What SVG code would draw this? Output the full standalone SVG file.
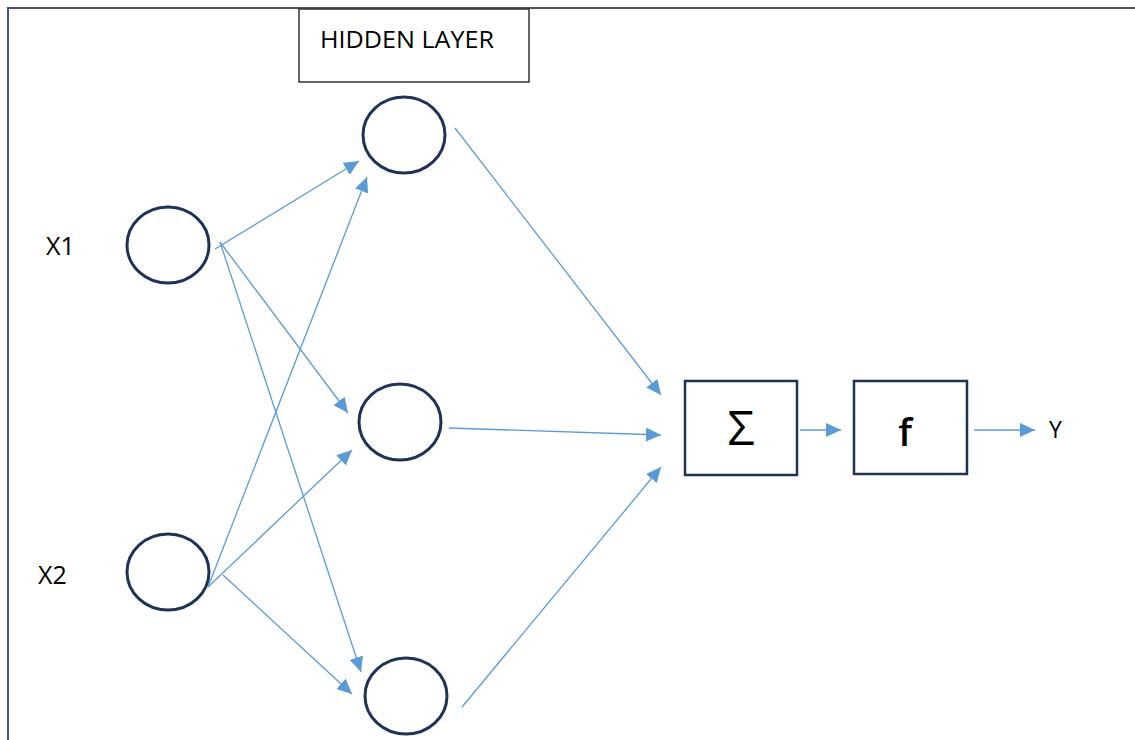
<svg xmlns="http://www.w3.org/2000/svg" width="1135" height="740" viewBox="0 0 1135 740">
<style>
.node{fill:#fff;stroke:#1f3356;stroke-width:3}
.box{fill:#fff;stroke:#1f3356;stroke-width:2.5}
.conn{stroke:#5b9bd5;stroke-width:1.3;fill:none;marker-end:url(#ah)}
.lbl{font-family:"Open Sans","Liberation Sans",sans-serif;fill:#000}
</style>
<defs>
<marker id="ah" markerUnits="userSpaceOnUse" markerWidth="16" markerHeight="14" refX="15" refY="7" orient="auto">
<path d="M0,0 L15,7 L0,14 Z" fill="#5b9bd5"/>
</marker>
</defs>
<rect x="0" y="0" width="1135" height="740" fill="#fff"/>
<rect id="frame" x="8" y="8" width="1140" height="750" fill="none" stroke="#44546a" stroke-width="2"/>
<g id="hidden-layer-label">
<rect x="299" y="9" width="230" height="73" fill="#fff" stroke="#333" stroke-width="1.5"/>
<text class="lbl" x="320" y="48" font-size="24.5" textLength="174" lengthAdjust="spacingAndGlyphs">HIDDEN LAYER</text>
</g>
<g id="x1"><ellipse class="node" cx="168" cy="245" rx="41" ry="38"/><text class="lbl" x="46" y="255" font-size="25">X1</text></g>
<g id="x2"><ellipse class="node" cx="168" cy="572" rx="41" ry="38"/><text class="lbl" x="38" y="584" font-size="25">X2</text></g>
<g id="h1"><ellipse class="node" cx="404" cy="135" rx="41" ry="38"/></g>
<g id="h2"><ellipse class="node" cx="400" cy="422" rx="41" ry="38"/></g>
<g id="h3"><ellipse class="node" cx="406" cy="696" rx="41" ry="38"/></g>
<g id="sum"><rect class="box" x="685" y="381" width="112" height="94"/><text class="lbl" x="741" y="445" font-size="48" text-anchor="middle">Σ</text></g>
<g id="f"><rect class="box" x="854" y="381" width="113" height="93"/><text class="lbl" x="905" y="446" font-size="38" font-weight="600" text-anchor="middle">f</text></g>
<g id="y"><text class="lbl" x="1049" y="438" font-size="23">Y</text></g>
<g id="connectors">
<line class="conn" x1="215" y1="249" x2="359" y2="161"/>
<line class="conn" x1="220" y1="242" x2="348" y2="413"/>
<line class="conn" x1="220" y1="242" x2="361" y2="672"/>
<line class="conn" x1="208" y1="587" x2="367" y2="177"/>
<line class="conn" x1="208" y1="587" x2="352" y2="450"/>
<line class="conn" x1="223" y1="575" x2="352" y2="694"/>
<line class="conn" x1="455" y1="128" x2="661" y2="395"/>
<line class="conn" x1="449" y1="428" x2="661" y2="435"/>
<line class="conn" x1="462" y1="707" x2="661" y2="467"/>
<line class="conn" x1="800" y1="430" x2="841" y2="430"/>
<line class="conn" x1="974" y1="430" x2="1035" y2="430"/>
</g>
</svg>
